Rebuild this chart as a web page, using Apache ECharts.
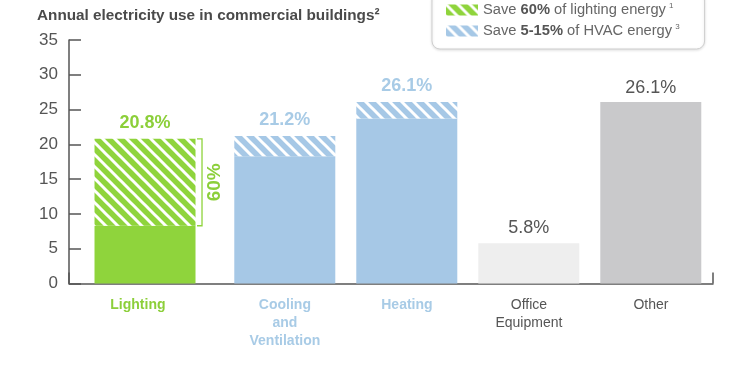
<!DOCTYPE html>
<html>
<head>
<meta charset="utf-8">
<script src="https://cdn.jsdelivr.net/npm/echarts@6/dist/echarts.min.js"></script>
<style>html,body{margin:0;padding:0;background:#fff;}#c{width:752px;height:374px;}</style>
</head>
<body>
<div id="c"></div>
<script>
// ---- data ----
const categories = ['Lighting', 'Cooling\nand\nVentilation', 'Heating', 'Office\nEquipment', 'Other'];
const totalShare = [20.8, 21.2, 26.1, 5.8, 26.1];
const savingShare = [12.5, 2.9, 2.4, 0, 0];
const savingLabel = '60%';
const yMin = 0, yMax = 35, yInterval = 5;
const legendNames = ['lighting', 'hvac'];

// ---- styles ----
const FONT = '"Liberation Sans", Arial, sans-serif';
const GREEN = '#8fd43c';
const GREEN_TXT = '#8ccf3a';
const BLUE = '#a6c8e6';
const BLUE_TXT = '#a8cbe6';
const GRAY_TXT = '#555';
const barColors = [GREEN, BLUE, BLUE, '#eeeeee', '#c9c9cb'];
const BAR_W = 101;
const GAP = -0.824;

function hatch(base) {
  const s = 12;
  const c = document.createElement('canvas');
  c.width = s; c.height = s;
  const ctx = c.getContext('2d');
  ctx.fillStyle = base; ctx.fillRect(0, 0, s, s);
  ctx.strokeStyle = '#fff'; ctx.lineWidth = 3;
  for (const k of [-1, 0, 1]) {
    ctx.beginPath();
    ctx.moveTo(-2, -2 + k * s);
    ctx.lineTo(s + 2, s + 2 + k * s);
    ctx.stroke();
  }
  return { image: c, repeat: 'repeat' };
}

const baseShare = totalShare.map((t, i) => +(t - savingShare[i]).toFixed(2));
const dash = '-';

const labelKeys = ['lit', 'blue', 'blue', 'gray', 'gray'];
const valueLabelStyles = [
  { color: GREEN_TXT, fontWeight: 'bold', distance: 7 },
  { color: BLUE_TXT, fontWeight: 'bold', distance: 7 },
  { color: BLUE_TXT, fontWeight: 'bold', distance: 7 },
  { color: GRAY_TXT, fontWeight: 'normal', distance: 6 },
  { color: GRAY_TXT, fontWeight: 'normal', distance: 5 }
];

const chart = echarts.init(document.getElementById('c'), null, { renderer: 'canvas' });

const commonBar = { type: 'bar', barWidth: BAR_W, barGap: (GAP * 100) + '%', xAxisIndex: 0, yAxisIndex: 0, animation: false };

const option = {
  animation: false,
  textStyle: { fontFamily: FONT },
  title: {
    text: 'Annual electricity use in commercial buildings²',
    left: 32, top: 3,
    textStyle: { fontFamily: FONT, fontSize: 15.3, fontWeight: 'bold', color: '#4a4a4a' }
  },
  legend: {
    data: legendNames,
    orient: 'vertical',
    left: 432, top: -8,
    padding: [10, 25, 10, 14],
    itemGap: 5,
    itemWidth: 32, itemHeight: 11,
    icon: 'rect',
    borderColor: '#cfcfcf', borderWidth: 1, borderRadius: 8,
    backgroundColor: '#fff',
    shadowBlur: 3, shadowColor: 'rgba(0,0,0,0.12)', shadowOffsetY: 1,
    formatter: function (name) {
      return name === 'lighting'
        ? '{a|Save }{b|60%}{a| of lighting energy}{s|1}'
        : '{a|Save }{b|5-15%}{a| of HVAC energy}{s|3}';
    },
    textStyle: {
      fontFamily: FONT, fontSize: 14.7, color: '#666',
      rich: {
        a: { fontFamily: FONT, fontSize: 14.7, color: '#666', lineHeight: 18 },
        b: { fontFamily: FONT, fontSize: 14.7, color: '#555', fontWeight: 'bold', lineHeight: 18 },
        s: { fontFamily: FONT, fontSize: 8, color: '#666', lineHeight: 18, padding: [0, 0, 8, 3] }
      }
    }
  },
  grid: [
    { left: 92.9, right: 49.1, top: 40, bottom: 90.5 },
    { left: 69, right: 39, top: 40, bottom: 90.5 }
  ],
  xAxis: [
    {
      type: 'category', gridIndex: 0, data: categories,
      axisLine: { show: false }, axisTick: { show: false },
      axisLabel: {
        interval: 0, margin: 13,
        formatter: function (v, i) {
          const k = labelKeys[i];
          return v.split('\n').map(l => '{' + k + '|' + l + '}').join('\n');
        },
        rich: {
          lit: { fontFamily: FONT, fontSize: 14, lineHeight: 18, fontWeight: 'bold', color: GREEN_TXT, padding: [0, 32, 0, 0] },
          blue: { fontFamily: FONT, fontSize: 14, lineHeight: 18, fontWeight: 'bold', color: BLUE_TXT, padding: [0, 0, 0, 18] },
          gray: { fontFamily: FONT, fontSize: 14, lineHeight: 18, color: GRAY_TXT, padding: [0, 0, 0, 18] }
        }
      }
    },
    {
      type: 'value', gridIndex: 1, min: 0, max: 1, interval: 1,
      axisLine: { show: true, lineStyle: { color: '#555', width: 1.5 } },
      axisTick: { show: true, inside: true, length: 11, lineStyle: { color: '#555', width: 1.5 } },
      axisLabel: { show: false }, splitLine: { show: false }
    }
  ],
  yAxis: [
    {
      type: 'value', gridIndex: 0, min: yMin, max: yMax, interval: yInterval,
      show: false, splitLine: { show: false }
    },
    {
      type: 'value', gridIndex: 1, min: yMin, max: yMax, interval: yInterval,
      axisLine: { show: true, lineStyle: { color: '#555', width: 1.5 } },
      axisTick: { show: true, inside: true, length: 12, lineStyle: { color: '#555', width: 1.5 } },
      axisLabel: { fontFamily: FONT, fontSize: 17, color: '#555', margin: 11 },
      splitLine: { show: false }
    }
  ],
  series: [
    Object.assign({}, commonBar, {
      name: 'lightBase', stack: 'L',
      data: baseShare.map((v, i) => i === 0 ? v : dash),
      itemStyle: { color: GREEN }
    }),
    Object.assign({}, commonBar, {
      name: 'lighting', stack: 'L',
      data: savingShare.map((v, i) => i === 0 ? v : dash),
      itemStyle: { color: hatch(GREEN) },
      label: {
        show: true, position: 'top', distance: valueLabelStyles[0].distance,
        fontFamily: FONT, fontSize: 18, fontWeight: 'bold', color: valueLabelStyles[0].color,
        formatter: p => totalShare[p.dataIndex] + '%'
      }
    }),
    Object.assign({}, commonBar, {
      name: 'otherBase', stack: 'O',
      data: baseShare.map((v, i) => i === 0 ? dash : { value: v, itemStyle: { color: barColors[i] } })
    }),
    Object.assign({}, commonBar, {
      name: 'hvac', stack: 'O',
      itemStyle: { color: hatch(BLUE) },
      data: savingShare.map((v, i) => i === 0 ? dash : {
        value: v,
        label: {
          show: true, position: 'top', distance: valueLabelStyles[i].distance,
          fontFamily: FONT, fontSize: 18, fontWeight: valueLabelStyles[i].fontWeight,
          color: valueLabelStyles[i].color,
          formatter: p => totalShare[p.dataIndex] + '%'
        }
      })
    }),
    {
      type: 'custom', name: 'bracket', xAxisIndex: 0, yAxisIndex: 0,
      coordinateSystem: 'cartesian2d', silent: true, z: 5,
      encode: { x: 0, y: [1, 2] },
      data: [[0, baseShare[0], totalShare[0]]],
      renderItem: function (params, api) {
        const pb = api.coord([api.value(0), api.value(1)]);
        const pt = api.coord([api.value(0), api.value(2)]);
        const d = BAR_W * (1 + GAP) / 2;
        const right = pb[0] - d + BAR_W / 2;
        const bx = right + 6.5;
        return {
          type: 'group',
          children: [
            {
              type: 'polyline',
              shape: { points: [[bx - 5, pt[1]], [bx, pt[1]], [bx, pb[1]], [bx - 5, pb[1]]] },
              style: { stroke: GREEN, lineWidth: 1.3, fill: null }
            },
            {
              type: 'text',
              x: bx + 13, y: (pt[1] + pb[1]) / 2,
              rotation: Math.PI / 2,
              style: {
                text: savingLabel, fontFamily: FONT, fontSize: 19, fontWeight: 'bold',
                fill: GREEN_TXT, align: 'center', verticalAlign: 'middle'
              }
            }
          ]
        };
      }
    }
  ]
};
chart.setOption(option);
</script>
</body>
</html>
